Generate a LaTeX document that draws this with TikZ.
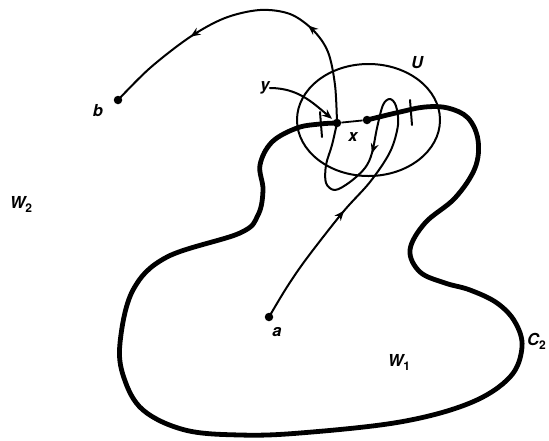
\documentclass[tikz,border=0pt]{standalone}
\usepackage{fontspec}
\setmainfont{TeX Gyre Heros}
\usetikzlibrary{arrows.meta,decorations.markings}
\newcommand\mysub[1]{\raisebox{-0.45ex}{\fontsize{12}{12}\selectfont\upshape #1}}
\begin{document}
\begin{tikzpicture}[x=1pt,y=-1pt,
  lab/.style={font=\fontsize{16.5}{19}\selectfont\bfseries\itshape, inner sep=0pt},
  dot/.style={circle, fill, inner sep=0pt, minimum size=8.5pt},
  trail/.style={line width=2pt, line cap=round, line join=round},
  bound/.style={line width=4.8pt, line cap=round, line join=round},
  tip/.style={-{Stealth[length=10pt,width=8pt]}},
  marks/.style 2 args={postaction={decorate}, decoration={markings,
      mark=at position #1 with {\arrow{Stealth[length=10pt,width=8pt]}},
      mark=at position #2 with {\arrow{Stealth[length=10pt,width=8pt]}}}}
]
\useasboundingbox (0,0) rectangle (549,440);

% region boundary C2
\draw[bound] plot[smooth, tension=0.6] coordinates {
  (367,120) (400,112) (425,107) (448,108) (468,118) (478,140) (475,168)
  (455,198) (425,223) (410,250) (420,272) (445,283) (470,290) (497,303)
  (515,322) (522,347) (510,377) (470,403) (400,422) (300,433) (240,435)
  (185,430) (143,410) (124,378) (120,343) (133,290) (167,257) (240,233)
  (258,215) (263,190) (260,165) (272,142) (297,128) (320,124) (337,123)};

% neighbourhood U
\draw[trail] (368.5,120) ellipse [x radius=71.5pt, y radius=56pt];

% dots
\node[dot] (a) at (269,317) {};
\node[dot] (b) at (118,100) {};
\node[dot] (y) at (337,123) {};
\node[dot] (x) at (367,120) {};

% segment between y and x
\draw[line width=1.8pt] (y) -- (x);

% ticks
\draw[trail] (320,112) -- (322,137);
\draw[trail] (410,100) -- (412,125);

% path a -> y
\draw[trail, marks={0.29}{0.716}] plot[smooth, tension=0.55] coordinates {
  (a) (287,287) (307,258) (343,212) (370,182) (390,152) (398,125) (396,106)
  (390,99) (383,105) (377,128) (372,153) (365,168) (350,182) (335,190)
  (326,183) (326,165) (332,145) (y)};

% path y -> b
\draw[trail, marks={0.32}{0.707}] plot[smooth, tension=0.55] coordinates {
  (y) (335,85) (328,52) (313,30) (290,14) (260,10) (225,18) (190,37)
  (150,68) (b)};

% labels
\node[lab] (la) at (277,332) {a};
\node[lab] (lb) at (98,111) {b};
\node[lab] (ly) at (265,88) {y};
\node[lab] (lx) at (353,137) {x};
\node[lab] (lU) at (417,63) {U};
\node[lab] (lW2) at (21,204) {W\mysub{2}};
\node[lab] (lW1) at (399,362) {W\mysub{1}};
\node[lab, anchor=west] (lC2) at (527,341) {C\mysub{2}};

% arrow from label y to point y
\draw[trail, tip, shorten >=2pt] (ly.east) to[out=0, in=140] (y);
\end{tikzpicture}
\end{document}
